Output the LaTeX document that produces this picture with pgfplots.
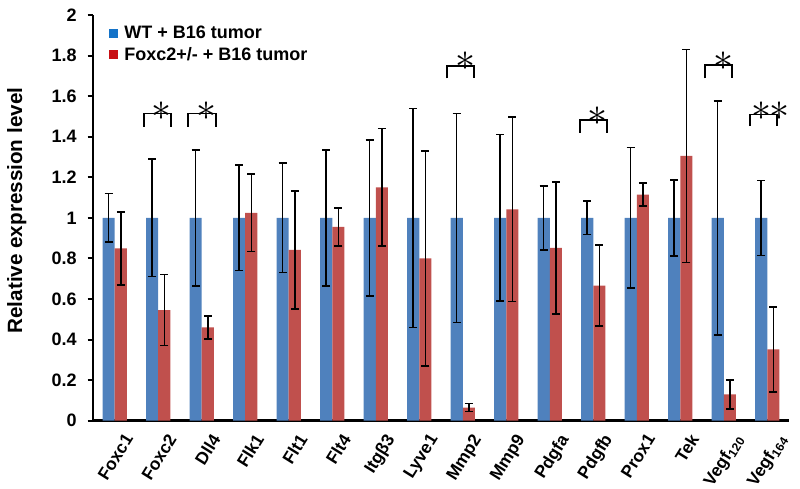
\documentclass[border=0pt]{standalone}
\usepackage{fontspec}
\setmainfont{Liberation Sans}
\usepackage{graphicx}
\usepackage{pgfplots}
\usepackage{pgfplotstable}
\pgfplotsset{compat=1.18}
\definecolor{barblue}{RGB}{79,129,189}
\definecolor{barred}{RGB}{192,80,77}
\definecolor{legblue}{RGB}{20,115,200}
\definecolor{legred}{RGB}{200,16,20}

\pgfplotstableread{
x wt wte ko koe
0 1 0.120 0.850 0.180
1 1 0.290 0.545 0.175
2 1 0.335 0.460 0.056
3 1 0.260 1.025 0.190
4 1 0.270 0.842 0.290
5 1 0.335 0.956 0.094
6 1 0.385 1.150 0.290
7 1 0.540 0.800 0.530
8 1 0.515 0.065 0.020
9 1 0.410 1.042 0.455
10 1 0.157 0.852 0.325
11 1 0.082 0.666 0.200
12 1 0.347 1.115 0.056
13 1 0.187 1.305 0.525
14 1 0.577 0.130 0.072
15 1 0.185 0.352 0.210
}\datatable

\newcommand{\sigstar}{\scalebox{3}{$\ast$}}

\begin{document}
\begin{tikzpicture}
\begin{axis}[
  name=ax,
  scale only axis,
  width=522pt, height=304.3pt,
  xmin=-0.5, xmax=15.5, ymin=0, ymax=2,
  clip=false,
  axis lines*=left,
  axis line style={line width=2pt, black},
  ytick={0,0.2,0.4,0.6,0.8,1,1.2,1.4,1.6,1.8,2},
  tick align=outside,
  major tick length=4pt,
  ytick style={line width=1.5pt, black},
  xtick={0.2,1.2,2.2,3.2,4.2,5.2,6.2,7.2,8.2,9.2,10.2,11.2,12.2,13.2,14.2,15.2},
  xtick style={draw=none},
  xticklabels={Foxc1,Foxc2,Dll4,Flk1,Flt1,Flt4,Itgβ3,Lyve1,Mmp2,Mmp9,Pdgfa,Pdgfb,Prox1,Tek,Vegf\textsubscript{120},Vegf\textsubscript{164}},
  xticklabel style={font=\fontsize{13}{13}\selectfont\bfseries, rotate=58, anchor=north east, inner sep=0pt},
  xticklabel shift=4.5pt,
  yticklabel style={font=\fontsize{13.5}{13.5}\selectfont\bfseries, inner sep=0pt, xshift=-8pt},
  /pgf/number format/assume math mode=true,
  ylabel={Relative expression level},
  ylabel style={font=\fontsize{15.5}{15.5}\selectfont\bfseries, at={(axis description cs:-0.1236,0.518)}, anchor=north, inner sep=0pt},
  legend style={at={(axis description cs:0,1)}, anchor=north west, xshift=8.5pt, yshift=-4pt, draw=none, fill=none, font=\fontsize{13.5}{13.5}\selectfont\bfseries, row sep=1pt, nodes={inner sep=2pt}},
  legend cell align=left,
  legend image code/.code={\fill[#1] (0pt,-3.4pt) rectangle (6.8pt,3.4pt);},
]
\addlegendimage{fill=legblue, draw=none}
\addlegendentry{\hspace{3pt}WT + B16 tumor}
\addlegendimage{fill=legred, draw=none}
\addlegendentry{\hspace{3pt}Foxc2+/- + B16 tumor}

\addplot[ybar, bar width=0.28, bar shift=0pt, fill=barblue, draw=none, forget plot,
  error bars/.cd, y dir=both, y explicit,
  error bar style={line width=1.2pt, solid, black},
  error mark options={rotate=90, mark size=3pt, line width=1.2pt, solid, black}]
  table[x expr=\thisrow{x}-0.14, y=wt, y error=wte] {\datatable};
\addplot[ybar, bar width=0.28, bar shift=0pt, fill=barred, draw=none, forget plot,
  error bars/.cd, y dir=both, y explicit,
  error bar style={line width=1.2pt, solid, black},
  error mark options={rotate=90, mark size=3pt, line width=1.2pt, solid, black}]
  table[x expr=\thisrow{x}+0.14, y=ko, y error=koe] {\datatable};

% significance brackets
\addplot[black, line width=1.3pt, forget plot] coordinates {(0.672,1.45) (0.672,1.515) (1.293,1.515) (1.293,1.45)};
\addplot[black, line width=1.3pt, forget plot] coordinates {(1.684,1.45) (1.684,1.515) (2.328,1.515) (2.328,1.45)};
\addplot[black, line width=1.3pt, forget plot] coordinates {(7.631,1.688) (7.631,1.749) (8.259,1.749) (8.259,1.688)};
\addplot[black, line width=1.3pt, forget plot] coordinates {(10.695,1.42) (10.695,1.482) (11.323,1.482) (11.323,1.42)};
\addplot[black, line width=1.3pt, forget plot] coordinates {(13.569,1.688) (13.569,1.754) (14.197,1.754) (14.197,1.688)};
\addplot[black, line width=1.3pt, forget plot] coordinates {(14.603,1.452) (14.603,1.51) (15.231,1.51) (15.231,1.452)};

\node[inner sep=0pt] at (axis cs:1.086,1.528) {\sigstar};
\node[inner sep=0pt] at (axis cs:2.114,1.528) {\sigstar};
\node[inner sep=0pt] at (axis cs:8.052,1.770) {\sigstar};
\node[inner sep=0pt] at (axis cs:11.109,1.502) {\sigstar};
\node[inner sep=0pt] at (axis cs:13.983,1.770) {\sigstar};
\node[inner sep=0pt] at (axis cs:14.872,1.527) {\sigstar};
\node[inner sep=0pt] at (axis cs:15.293,1.527) {\sigstar};
\end{axis}
\pgfresetboundingbox
\path[use as bounding box] ([xshift=-69.75pt,yshift=-51.2pt]ax.south west) rectangle ([xshift=8.25pt,yshift=11.25pt]ax.north east);
\end{tikzpicture}
\end{document}
